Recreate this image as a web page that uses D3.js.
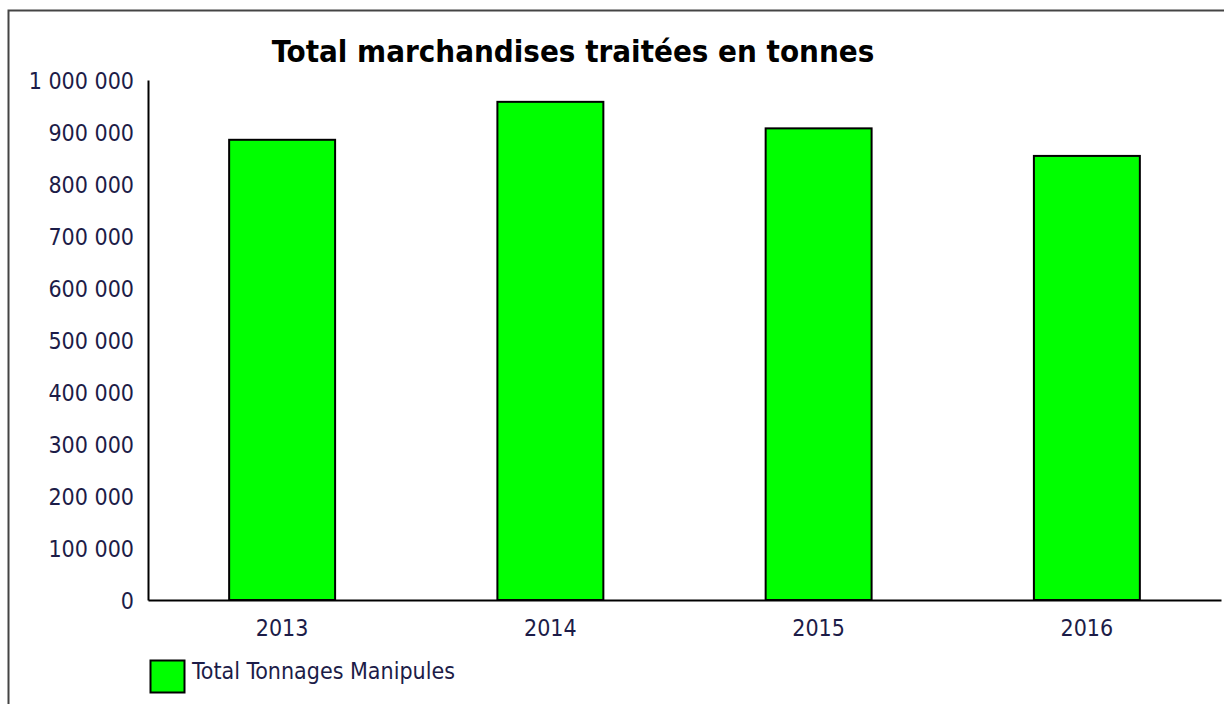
<!DOCTYPE html>
<html>
<head>
<meta charset="utf-8">
<title>Total marchandises traitées en tonnes</title>
<script src="https://d3js.org/d3.v7.min.js"></script>
<style>
	body { margin: 0; background: #fff; }
	text { font-family: "DejaVu Sans Condensed", "DejaVu Sans", sans-serif; }
</style>
</head>
<body>
<div id="chart"></div>
<script type="text/javascript">
	// Chart data
	const years = ["2013", "2014", "2015", "2016"];
	const tonnages = [885000, 958000, 907000, 854000];
	const yTicks = [0, 100000, 200000, 300000, 400000, 500000, 600000, 700000, 800000, 900000, 1000000];
	const seriesName = "Total Tonnages Manipules";
	const chartTitle = "Total marchandises traitées en tonnes";

	const width = 1224, height = 704;
	const plot = {left: 148, right: 1221, top: 80, bottom: 600};
	const textColor = "#1c1c48";

	const svg = d3.select("#chart").append("svg")
		.attr("width", width)
		.attr("height", height);

	// Outer frame
	svg.append("rect")
		.attr("x", 8.5).attr("y", 10.5)
		.attr("width", 1230).attr("height", 710)
		.attr("fill", "none")
		.attr("stroke", "#444")
		.attr("stroke-width", 2);

	// Scales
	var x = d3.scaleBand()
		.domain(years)
		.range([plot.left, plot.right])
		.paddingInner(0.605)
		.paddingOuter(0.3025);

	var y = d3.scaleLinear()
		.domain([0, 1000000])
		.range([plot.bottom, plot.top]);

	const fmt = d3.formatLocale({decimal: ",", thousands: " ", grouping: [3], currency: ["", " €"]}).format(",d");

	// Title
	svg.append("text")
		.attr("x", 573).attr("y", 62)
		.attr("text-anchor", "middle")
		.attr("font-size", 31)
		.attr("font-weight", "bold")
		.attr("fill", "#000")
		.text(chartTitle);

	// Y axis
	var yAxis = svg.append("g")
		.attr("transform", "translate(" + plot.left + ",0)")
		.call(d3.axisLeft(y).tickValues(yTicks).tickFormat(fmt).tickSize(0).tickPadding(14));
	yAxis.select(".domain").attr("stroke", "#000").attr("stroke-width", 2);
	yAxis.selectAll("text")
		.attr("font-size", 23)
		.attr("dy", "0.36em")
		.attr("fill", textColor)
		.style("font-family", "'DejaVu Sans Condensed', sans-serif");

	// Bars
	svg.selectAll("rect.bar")
		.data(tonnages)
		.enter()
		.append("rect")
		.attr("class", "bar")
		.attr("x", function (d, i) { return x(years[i]); })
		.attr("y", function (d) { return y(d); })
		.attr("width", x.bandwidth())
		.attr("height", function (d) { return y(0) - y(d); })
		.attr("fill", "#00ff00")
		.attr("stroke", "#000")
		.attr("stroke-width", 2);

	// X axis
	var xAxis = svg.append("g")
		.attr("transform", "translate(0," + plot.bottom + ")")
		.call(d3.axisBottom(x).tickSize(0).tickPadding(20));
	xAxis.select(".domain").attr("stroke", "#000").attr("stroke-width", 2);
	xAxis.selectAll("text")
		.attr("font-size", 23)
		.attr("fill", textColor)
		.style("font-family", "'DejaVu Sans Condensed', sans-serif");

	// Legend
	var legend = svg.append("g").attr("transform", "translate(150,660)");
	legend.append("rect")
		.attr("x", 0.5).attr("y", 0.5)
		.attr("width", 34).attr("height", 32)
		.attr("fill", "#00ff00")
		.attr("stroke", "#000")
		.attr("stroke-width", 2);
	legend.append("text")
		.attr("x", 42).attr("y", 19)
		.attr("font-size", 23)
		.attr("fill", textColor)
		.text(seriesName);
</script>
</body>
</html>
